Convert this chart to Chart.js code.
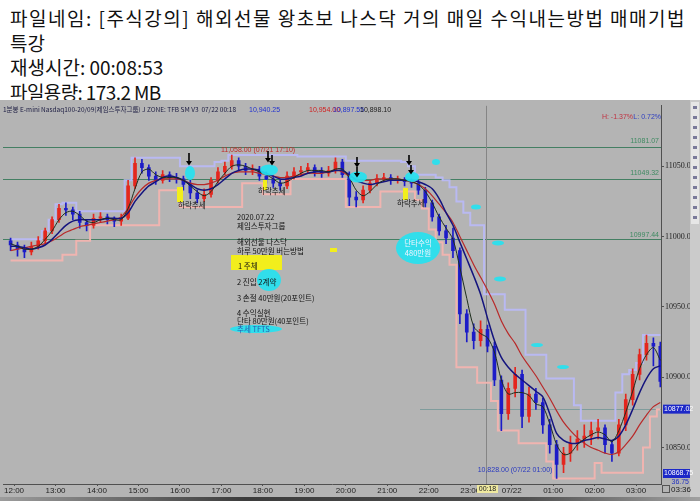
<!DOCTYPE html>
<html>
<head>
<meta charset="utf-8">
<script src="https://cdn.jsdelivr.net/npm/chart.js@4.4.1/dist/chart.umd.min.js"></script>
<style>
html, body { margin: 0; padding: 0; background: #fff; width: 700px; height: 501px; overflow: hidden; }
#info { position: absolute; left: 10px; top: 6px; font-family: "Noto Sans CJK KR", sans-serif; font-size: 19px; line-height: 24.5px; color: #111; white-space: nowrap; }
#info .l1 { letter-spacing: 1.5px; }
#info .l4 { letter-spacing: -0.6px; }
#wrap { position: absolute; left: 0; top: 100px; width: 700px; height: 401px; }
#strip { position: absolute; left: 0; top: 497px; width: 700px; height: 4px; background: linear-gradient(to right, #9c9c9c, #3c3c3c 35%, #505050 75%, #a0a0a0); }
</style>
</head>
<body>
<div id="info"><span class="l1">파일네임: [주식강의] 해외선물 왕초보 나스닥 거의 매일 수익내는방법 매매기법</span><br>특강<br>재생시간: 00:08:53<br><span class="l4">파일용량: 173.2 MB</span></div>
<div id="wrap"><canvas id="chart"></canvas></div>
<div id="strip"></div>
<script>
// 10 minute bars, 07/21 11:50 -> 07/22 03:30
var times = ["11:50",
  "12:00","12:10","12:20","12:30","12:40","12:50","13:00","13:10","13:20","13:30","13:40","13:50",
  "14:00","14:10","14:20","14:30","14:40","14:50","15:00","15:10","15:20","15:30","15:40","15:50",
  "16:00","16:10","16:20","16:30","16:40","16:50","17:00","17:10","17:20","17:30","17:40","17:50",
  "18:00","18:10","18:20","18:30","18:40","18:50","19:00","19:10","19:20","19:30","19:40","19:50",
  "20:00","20:10","20:20","20:30","20:40","20:50","21:00","21:10","21:20","21:30","21:40","21:50",
  "22:00","22:10","22:20","22:30","22:40","22:50","23:00","23:10","23:20","23:30","23:40","23:50",
  "00:00","00:10","00:20","00:30","00:40","00:50","01:00","01:10","01:20","01:30","01:40","01:50",
  "02:00","02:10","02:20","02:30","02:40","02:50","03:00","03:10","03:20","03:30"]

var opens = [10997,10994,10991,10989,10993,10997,11004,11012,11020,11019,
  11016,11010,11008,11013,11014,11012,11011,11013,11036,11052,
  11049,11043,11040,11044,11042,11041,11037,11031,11027,11030,
  11040,11046,11050,11054,11050,11047,11048,11043,11041,11038,
  11036,11043,11046,11047,11049,11046,11045,11047,11053,11044,
  11028,11026,11033,11038,11041,11042,11040,11040,11039,11038,
  11033,11024,11014,11004,10999,10990,10945,10932,10926,10934,
  10922,10898,10874,10892,10902,10872,10888,10882,10866,10852,
  10838,10846,10853,10856,10858,10862,10864,10852,10846,10866,
  10884,10902,10916,10924,10922]
var highs = [10999,10996,10994,10996,11000,11006,11014,11023,11024,11021,
  11018,11012,11016,11017,11016,11014,11016,11040,11056,11055,
  11051,11046,11047,11046,11045,11043,11040,11033,11034,11042,
  11049,11053,11058,11056,11052,11051,11050,11046,11043,11040,
  11046,11049,11050,11052,11051,11049,11050,11056,11055,11046,
  11032,11036,11040,11044,11045,11044,11043,11042,11041,11040,
  11035,11026,11016,11008,11006,10992,10948,10938,10940,10937,
  10925,10901,10896,10907,10905,10893,10892,10885,10870,10855,
  10850,10858,10862,10866,10868,10870,10866,10855,10870,10888,
  10906,10920,10930,10928,10925]
var lows = [10990,10986,10985,10987,10991,10995,11002,11010,11015,11012,
  11006,11004,11006,11010,11009,11007,11008,11012,11034,11045,
  11040,11037,11038,11039,11038,11033,11027,11024,11025,11028,
  11038,11044,11048,11047,11044,11044,11040,11038,11035,11033,
  11034,11041,11043,11045,11043,11042,11043,11045,11042,11022,
  11021,11024,11031,11036,11039,11037,11038,11036,11035,11030,
  11021,11011,11001,10995,10985,10938,10925,10920,10922,10918,
  10894,10862,10870,10886,10864,10868,10877,10860,10846,10828,
  10832,10840,10848,10850,10852,10856,10846,10840,10844,10862,
  10880,10898,10912,10908,10893]
var closes = [10994,10991,10989,10993,10997,11004,11012,11020,11019,11016,
  11010,11008,11013,11014,11012,11011,11013,11036,11052,11049,
  11043,11040,11044,11042,11041,11037,11031,11027,11030,11040,
  11046,11050,11054,11050,11047,11048,11043,11041,11038,11036,
  11043,11046,11047,11049,11046,11045,11047,11053,11044,11028,
  11026,11033,11038,11041,11042,11040,11040,11039,11038,11033,
  11024,11014,11004,10999,10990,10945,10932,10926,10934,10922,
  10898,10874,10892,10902,10872,10888,10882,10866,10852,10838,
  10846,10853,10856,10858,10862,10864,10852,10846,10866,10884,
  10902,10916,10924,10922,10897]

// channel (upper lavender, lower pink)
var upperBand = [10998,10998,10998,10998,10998,11004,11012,11023,11024,11024,
  11018,11018,11018,11018,11018,11018,11018,11040,11056,11056,
  11056,11056,11056,11056,11056,11050,11050,11050,11050,11050,
  11053,11054,11058,11058,11058,11058,11058,11058,11058,11058,
  11058,11058,11057,11057,11057,11057,11057,11057,11057,11054,
  11054,11054,11054,11054,11054,11054,11054,11053,11050,11044,
  11044,11044,11042,11040,11035,11025,11017,11008,11008,10959,
  10959,10959,10948,10948,10948,10916,10916,10916,10899,10899,
  10899,10899,10880,10869,10869,10869,10869,10869,10889,10902,
  10905,10910,10930,10930,10930]
var lowerBand = [10983,10983,10983,10983,10983,10983,10983,10983,10987,10987,
  10997,10997,11008,11008,11008,11008,11008,11008,11008,11008,
  11008,11008,11033,11033,11033,11021,11021,11021,11021,11021,
  11021,11021,11021,11021,11038,11038,11038,11030,11030,11030,
  11030,11041,11041,11041,11041,11041,11041,11041,11041,11021,
  11021,11021,11021,11021,11032,11032,11032,11032,11032,11026,
  11020,11005,10996,10987,10980,10907,10907,10907,10896,10896,
  10883,10862,10862,10862,10853,10853,10853,10853,10840,10828,
  10828,10828,10828,10828,10828,10839,10832,10832,10832,10832,
  10832,10832,10850,10872,10877]

// moving averages
var maSlow = [10990,10991,10992,10993,10994,10995,10997,11000,11003,11005,
  11007,11008,11009,11010,11011,11012,11014,11020,11028,11034,
  11038,11040,11041,11041,11041,11040,11038,11037,11037,11038,
  11040,11043,11045,11046,11046,11046,11045,11044,11043,11042,
  11042,11043,11044,11045,11045,11045,11046,11047,11046,11043,
  11041,11040,11040,11041,11041,11041,11041,11040,11039,11037,
  11034,11029,11023,11017,11010,11000,10990,10980,10971,10962,
  10952,10940,10931,10924,10915,10908,10901,10893,10885,10876,
  10868,10862,10857,10853,10850,10848,10846,10845,10847,10852,
  10858,10866,10873,10879,10882]
var maMid = [10993,10993,10992,10991,10992,10994,10998,11003,11008,11011,
  11012,11012,11012,11012,11013,11013,11013,11017,11025,11031,
  11036,11039,11042,11043,11042,11040,11037,11034,11033,11034,
  11037,11041,11045,11047,11048,11048,11047,11045,11043,11041,
  11041,11042,11043,11045,11046,11046,11046,11047,11047,11044,
  11040,11038,11037,11038,11039,11040,11040,11040,11040,11039,
  11037,11034,11027,11017,11008,10996,10984,10972,10959,10942,
  10926,10914,10907,10902,10898,10894,10890,10886,10874,10860,
  10855,10853,10853,10855,10856,10857,10856,10855,10858,10866,
  10877,10889,10899,10906,10908]
var maFast = [10995,10993,10991,10991,10993,10998,11004,11012,11017,11018,
  11015,11011,11010,11012,11013,11012,11012,11020,11034,11046,
  11048,11044,11042,11042,11042,11040,11036,11032,11029,11032,
  11039,11045,11050,11051,11050,11048,11046,11044,11041,11038,
  11039,11042,11045,11047,11047,11047,11046,11048,11048,11042,
  11033,11029,11032,11037,11040,11041,11041,11040,11039,11037,
  11032,11024,11014,11006,10998,10978,10956,10936,10931,10928,
  10918,10898,10888,10889,10889,10887,10881,10879,10867,10852,
  10845,10846,10852,10856,10859,10861,10859,10854,10862,10875,
  10890,10906,10916,10921,10912]

var hourLabels = ["12:00","13:00","14:00","15:00","16:00","17:00","18:00","19:00",
  "20:00","21:00","22:00","23:00","07/22","01:00","02:00","03:00"]
var yTicks = [10850, 10900, 10950, 11000, 11050]

// horizontal lines as drawn, with the text printed on them
var levelValues = [11063.4, 11040.8, 10998.4]
var levelTexts = ["11081.07", "11049.32", "10997.44"]
var markLevel = 10877.6

// minutes after 07/21 12:00 (hours before 06 belong to the next day)
function toMin(s) {
  var p = s.split(":").map(Number)
  var h = p[0] < 6 ? p[0] + 24 : p[0]
  return h * 60 + p[1] - 720
}

var xs = times.map(function(t){ return toMin(t) + 5 })
var UP = "#e4261e", DOWN = "#1c1cc8"
var barColors = closes.map(function(c, i){ return c >= opens[i] ? UP : DOWN })

function series(arr) {
  return arr.map(function(v, i){ return {x: xs[i], y: v} })
}

var PAGE_TOP = 100
function P(x, y) { return [x, y - PAGE_TOP] }

function arrow(c, x, y1, y2) {
  var a = P(x, y1), b = P(x, y2)
  c.strokeStyle = "#000"
  c.lineWidth = 1.6
  c.beginPath(); c.moveTo(a[0], a[1]); c.lineTo(b[0], b[1] - 3); c.stroke()
  c.fillStyle = "#000"
  c.beginPath(); c.moveTo(b[0] - 3, b[1] - 4); c.lineTo(b[0] + 3, b[1] - 4); c.lineTo(b[0], b[1] + 0.5); c.closePath(); c.fill()
}
function blob(c, x, y, rx, ry, col) {
  var p = P(x, y)
  c.fillStyle = col || "rgba(38,226,240,0.92)"
  c.beginPath(); c.ellipse(p[0], p[1], rx, ry, 0, 0, Math.PI * 2); c.fill()
}
function rect(c, x, y, w, h, col) {
  var p = P(x, y)
  c.fillStyle = col
  c.fillRect(p[0], p[1], w, h)
}
function text(c, s, x, y, col, font, align) {
  var p = P(x, y)
  c.fillStyle = col
  c.font = font || '7.5px "Noto Sans CJK KR"'
  c.textAlign = align || "left"
  c.textBaseline = "middle"
  c.fillText(s, p[0], p[1])
}

var decor = {
  id: "decor",
  beforeDraw: function(chart) {
    var c = chart.ctx
    c.save()
    c.fillStyle = "#b4b4b4"
    c.fillRect(0, 0, chart.width, chart.height)
    // tool strip on the far right
    c.fillStyle = "#cbcbcb"
    c.fillRect(690, 0, 10, chart.height)
    c.fillStyle = "#e6e6e6"
    c.fillRect(691, 2, 8, 122)
    c.fillStyle = "#7a7a9a"
    for (var i = 0; i < 12; i++) c.fillRect(693, 6 + i * 10, 4, 3)
    c.restore()
  },
  beforeDatasetsDraw: function(chart) {
    var c = chart.ctx, a = chart.chartArea, y = chart.scales.y
    c.save()
    c.lineWidth = 1
    c.strokeStyle = "#447f63"
    levelValues.forEach(function(v){
      var py = Math.round(y.getPixelForValue(v)) + 0.5
      c.beginPath(); c.moveTo(a.left, py); c.lineTo(a.right, py); c.stroke()
    })
    var my = Math.round(y.getPixelForValue(markLevel)) + 0.5
    c.strokeStyle = "#7f9c9c"
    c.beginPath(); c.moveTo(420, my); c.lineTo(a.right, my); c.stroke()
    c.strokeStyle = "#858585"
    c.beginPath(); c.moveTo(486.5, a.top); c.lineTo(486.5, a.bottom); c.stroke()
    c.restore()
  },
  afterDatasetsDraw: function(chart) {
    var c = chart.ctx, y = chart.scales.y
    c.save()
    var small = '7px "Liberation Sans Narrow", "Liberation Sans", sans-serif'
    // title line of the chart window
    text(c, "1분봉 E-mini Nasdaq100-20/09(제임스투자그룹) J ZONE: TFB SM V3  07/22 00:18", 3, 110, "#1a1a40", '6.5px "Noto Sans CJK KR"')
    text(c, "10,940.25", 249, 110, "#2030d0", small)
    text(c, "10,954.00", 309, 110, "#d02020", small)
    text(c, "10,897.55", 333, 110, "#2030d0", small)
    text(c, "10,898.10", 360, 110, "#202020", small)
    text(c, "L: 0.72%", 661, 117, "#3040c0", small, "right")
    text(c, "H: -1.37%", 633, 117, "#c03040", small, "right")
    // level texts
    var lvlY = [141, 173, 235]
    levelTexts.forEach(function(s, i){ text(c, s, 659, lvlY[i], "#3f8a62", small, "right") })
    text(c, "11,058.00 (07/21 17:10)", 258, 150, "#c02828", small, "center")
    text(c, "10,828.00 (07/22 01:00)", 515, 470, "#2838c0", small, "center")

    // highlights on the chart
    rect(c, 177, 187, 6, 15, "#f2ee1c")
    rect(c, 263, 180, 4, 10, "#f2ee1c")
    rect(c, 403, 188, 5, 12, "#f2ee1c")
    rect(c, 330, 248, 7, 4, "#f2ee1c")
    blob(c, 190, 173, 5, 7)
    blob(c, 269, 170, 9, 5.5)
    blob(c, 358, 177, 9, 5.5)
    blob(c, 412, 177, 7, 5)
    blob(c, 436, 162, 4, 3)
    blob(c, 476, 207, 5, 2.5)
    blob(c, 498, 243, 6, 2.5)
    blob(c, 500, 279, 6, 2.5)
    blob(c, 537, 345, 6, 2)
    blob(c, 563, 367, 6, 2)
    arrow(c, 189, 153, 165)
    arrow(c, 268, 151, 162)
    arrow(c, 272, 155, 165)
    arrow(c, 357, 157, 167)
    arrow(c, 357, 167, 177)
    arrow(c, 409, 155, 165)
    arrow(c, 411, 165, 174)
    text(c, "하락추세", 178, 205, "#111")
    text(c, "하락추세", 258, 191, "#111")
    text(c, "하락추세", 397, 203, "#111")

    // lesson notes
    rect(c, 231, 255, 51, 15, "#f2ee1c")
    blob(c, 269, 280, 12, 11)
    blob(c, 256, 329, 26, 4)
    text(c, "2020.07.22", 237, 217, "#111")
    text(c, "제임스투자그룹", 237, 226, "#111")
    text(c, "해외선물 나스닥", 237, 242, "#111")
    text(c, "하루 50만원 버는방법", 237, 251, "#111")
    text(c, "1 주체", 238, 266, "#111")
    text(c, "2 진입 2계약", 237, 282, "#111")
    text(c, "3 손절 40만원(20포인트)", 237, 298, "#111")
    text(c, "4 수익실현", 237, 313, "#111")
    text(c, "단타 80만원(40포인트)", 237, 321, "#111")
    text(c, "추세 TFTS", 237, 329, "#2a5ab0")
    blob(c, 418, 248, 22, 16)
    text(c, "단타수익", 418, 243, "#f4f4ff", null, "center")
    text(c, "480만원", 418, 253, "#f4f4ff", null, "center")

    // price boxes on the right axis
    var b1 = y.getPixelForValue(markLevel)
    c.fillStyle = "#1c28c8"
    c.fillRect(663, b1 - 4, 27, 9)
    c.fillRect(663, 369, 27, 9)
    c.fillStyle = "#fff"
    c.font = small; c.textAlign = "left"; c.textBaseline = "middle"
    c.fillText("10877.02", 664, b1 + 0.5)
    c.fillText("10868.75", 664, 373.5)
    c.fillStyle = "#2030c0"; c.textAlign = "right"
    c.fillText("36.75", 689, 382)
    // time boxes on the bottom axis
    c.fillStyle = "#efe9a0"
    c.fillRect(477, 385, 21, 8)
    c.fillStyle = "#222"; c.textAlign = "center"
    c.fillText("00:18", 487.5, 389.5)
    c.strokeStyle = "#555"; c.lineWidth = 1
    c.strokeRect(662.5, 385.5, 7, 7)
    c.font = '8px "Liberation Sans", sans-serif'
    c.fillText("03:36", 681, 390)
    c.restore()
  }
}

new Chart(document.getElementById("chart"), {
  type: "line",
  data: {
    datasets: [
      { type: "line", data: series(upperBand), borderColor: "#b9b9f2", borderWidth: 2, stepped: "middle", pointRadius: 0, order: 6 },
      { type: "line", data: series(lowerBand), borderColor: "#f0b4b0", borderWidth: 2, stepped: "middle", pointRadius: 0, order: 6 },
      { type: "bar", data: lows.map(function(v, i){ return {x: xs[i], y: [v, highs[i]]} }), backgroundColor: barColors, barThickness: 1, grouped: false, order: 5 },
      { type: "bar", data: opens.map(function(v, i){ return {x: xs[i], y: [v, closes[i]]} }), backgroundColor: barColors, barThickness: 3, grouped: false, order: 4 },
      { type: "line", data: series(maSlow), borderColor: "#b82a2a", borderWidth: 1.2, pointRadius: 0, tension: 0.3, order: 3 },
      { type: "line", data: series(maMid), borderColor: "#14147e", borderWidth: 1.5, pointRadius: 0, tension: 0.3, order: 2 },
      { type: "line", data: series(maFast), borderColor: "#1e2e1e", borderWidth: 1, pointRadius: 0, tension: 0.3, order: 1 }
    ]
  },
  options: {
    responsive: true,
    maintainAspectRatio: false,
    devicePixelRatio: 1,
    animation: false,
    events: [],
    layout: { padding: { left: 3, top: 3, right: 10, bottom: 6 } },
    plugins: { legend: { display: false }, tooltip: { enabled: false } },
    scales: {
      x: {
        type: "linear", min: -16, max: 936, offset: false,
        afterBuildTicks: function(s){ s.ticks = hourLabels.map(function(l, i){ return {value: i * 60} }) },
        afterFit: function(s){ s.height = 11 },
        grid: { drawOnChartArea: false, offset: false, tickLength: 2, color: "#505050" },
        border: { display: true, color: "#505050" },
        ticks: { padding: 0, maxRotation: 0, autoSkip: false, color: "#1e1e1e",
          font: { family: "Liberation Sans", size: 8 },
          callback: function(v){ return hourLabels[Math.round(v / 60)] } }
      },
      y: {
        type: "linear", position: "right", min: 10824, max: 11093,
        afterBuildTicks: function(s){ s.ticks = yTicks.map(function(v){ return {value: v} }) },
        afterFit: function(s){ s.width = 29 },
        grid: { drawOnChartArea: false, tickLength: 3, color: "#505050" },
        border: { display: true, color: "#505050" },
        ticks: { padding: 1, color: "#1e1e1e",
          font: { family: "Liberation Sans Narrow", size: 8 },
          callback: function(v){ return v.toFixed(2) } }
      }
    }
  },
  plugins: [decor]
})
</script>
</body>
</html>
